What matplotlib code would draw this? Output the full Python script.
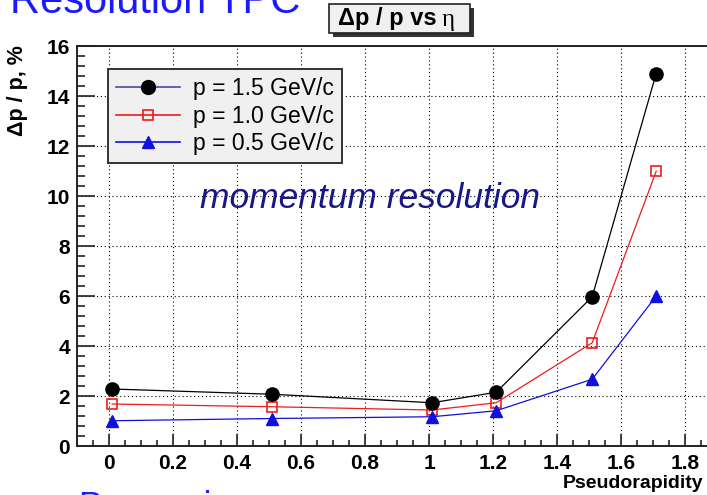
import matplotlib
matplotlib.use("Agg")
import matplotlib.pyplot as plt
from matplotlib.lines import Line2D
from matplotlib.patches import Rectangle
from matplotlib.ticker import MultipleLocator

# momentum resolution vs pseudorapidity for three track momenta
eta = [0.01, 0.51, 1.01, 1.21, 1.51, 1.71]
res_15 = [2.28, 2.07, 1.73, 2.15, 5.97, 14.9]
res_10 = [1.68, 1.57, 1.44, 1.73, 4.13, 10.99]
res_05 = [1.01, 1.10, 1.17, 1.41, 2.67, 6.0]
labels = ["p = 1.5 GeV/c", "p = 1.0 GeV/c", "p = 0.5 GeV/c"]

W, H = 707, 495
fig = plt.figure(figsize=(W / 100, H / 100), dpi=100)

def fx(px):
    return px / W

def fy(py):
    return 1 - py / H

# frame runs past the right edge of the slide
ax = fig.add_axes([fx(77), fy(446), fx(717 - 77), (446 - 46) / H])
ax.set_xlim(-0.1, 1.9)
ax.set_ylim(0, 16)

ax.plot(eta, res_15, color="black", lw=0.9, marker="o", ms=9.5, mfc="black", mec="black", zorder=5)
ax.plot(eta, res_10, color="#ee1c1c", lw=0.9, marker="s", ms=7, mfc="none", mec="#ee1c1c", mew=1.2, zorder=4)
ax.plot(eta, res_05, color="#1010e0", lw=0.9, marker="^", ms=9, mfc="#1010e0", mec="#1010e0", zorder=4)

ax.xaxis.set_major_locator(MultipleLocator(0.2))
ax.xaxis.set_minor_locator(MultipleLocator(0.05))
ax.yaxis.set_major_locator(MultipleLocator(2))
ax.yaxis.set_minor_locator(MultipleLocator(0.4))
ax.tick_params(axis="both", which="both", direction="in", top=False, right=False, width=1.2, colors="#222222")
ax.tick_params(axis="y", which="major", length=13, pad=5)
ax.tick_params(axis="y", which="minor", length=6)
ax.tick_params(axis="x", which="major", length=9, pad=6)
ax.tick_params(axis="x", which="minor", length=4.5)
ax.xaxis.set_major_formatter(plt.FuncFormatter(lambda v, p: f"{v:g}"))
for lab in ax.get_xticklabels() + ax.get_yticklabels():
    lab.set_fontfamily("Liberation Sans")
    lab.set_fontweight("bold")
    lab.set_fontsize(15)
    lab.set_color("black")
ax.grid(True, which="major", color="black", linestyle=(0, (1, 2.5)), linewidth=0.8)
for sp in ax.spines.values():
    sp.set_linewidth(1.4)
    sp.set_color("#222222")

# legend handles: the 1.5 GeV/c entry uses a navy line
handles = [
    Line2D([], [], color="#4a4a9a", lw=1.2, marker="o", ms=10, mfc="black", mec="black"),
    Line2D([], [], color="#ee1c1c", lw=1.2, marker="s", ms=7, mfc="none", mec="#ee1c1c", mew=1.2),
    Line2D([], [], color="#1010e0", lw=1.2, marker="^", ms=9, mfc="#1010e0", mec="#1010e0"),
]
leg = ax.legend(handles, labels, loc="upper left", bbox_to_anchor=(fx(108), fy(69)),
                bbox_transform=fig.transFigure, frameon=True, fancybox=False,
                facecolor="#f0f0f0", edgecolor="#333333", framealpha=1,
                prop={"family": "Liberation Sans", "size": 16.5},
                handlelength=2.8, handletextpad=0.55, labelspacing=0.2, borderpad=0.35,
                borderaxespad=0)
leg.get_frame().set_linewidth(1.4)

ax.text(0.192, 0.62, "momentum resolution", transform=ax.transAxes, fontsize=25.5,
        style="italic", color="#17178a", family="Liberation Sans", ha="left", va="center")

# axis titles
fig.text(fx(703), fy(484), "Pseudorapidity", ha="right", va="center",
         family="Liberation Sans", fontweight="bold", fontsize=14)
fig.text(fx(18), fy(45), "Δp / p, %", ha="center", va="top", rotation=90,
         family="Liberation Sans", fontweight="bold", fontsize=15.5)

# title box with drop shadow
fig.add_artist(Rectangle((fx(333), fy(37)), fx(141), (33 - 4) / H, transform=fig.transFigure,
                         facecolor="#333333", edgecolor="none"))
fig.add_artist(Rectangle((fx(329), fy(33)), fx(141), (33 - 4) / H, transform=fig.transFigure,
                         facecolor="#f0f0f0", edgecolor="#222222", linewidth=1.2))
fig.text(fx(437), fy(19), "Δp / p vs", ha="right", va="center",
         family="Liberation Sans", fontweight="bold", fontsize=17)
fig.text(fx(442), fy(20), "η", ha="left", va="center",
         family="Liberation Serif", fontsize=18)

# slide text cut off by the top and bottom edges
fig.text(fx(10), fy(13), "Resolution TPC", ha="left", va="baseline",
         family="Liberation Sans", fontsize=30, color="#1a1aff")
fig.text(fx(78), fy(516), "Processing", ha="left", va="baseline",
         family="Liberation Sans", fontsize=25, color="#1a1aff")

fig.savefig("out.png", dpi=100)
